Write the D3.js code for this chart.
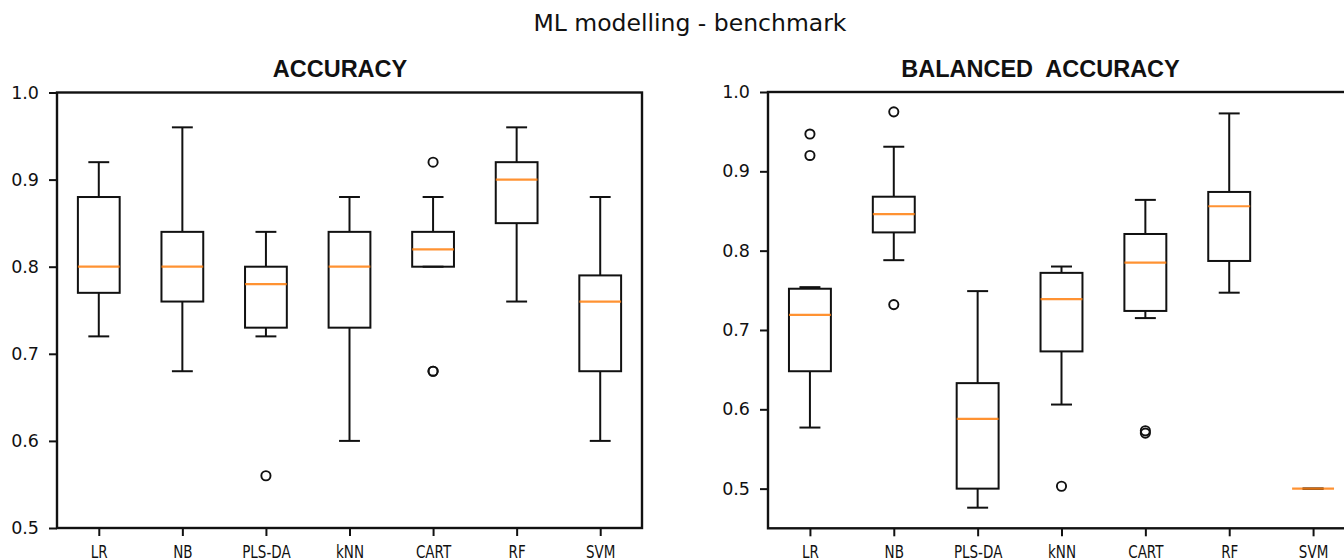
<!DOCTYPE html>
<html>
<head>
<meta charset="utf-8">
<script src="https://cdn.jsdelivr.net/npm/d3@7"></script>
<style>
  body { margin: 0; background: #fff; }
  svg { display: block; }
</style>
</head>
<body>
<script>
  var categories = ['LR', 'NB', 'PLS-DA', 'kNN', 'CART', 'RF', 'SVM'];

  // ACCURACY
  var accLo  = [0.72, 0.68, 0.72, 0.60, 0.80, 0.76, 0.60];
  var accQ1  = [0.77, 0.76, 0.73, 0.73, 0.80, 0.85, 0.68];
  var accMed = [0.80, 0.80, 0.78, 0.80, 0.82, 0.90, 0.76];
  var accQ3  = [0.88, 0.84, 0.80, 0.84, 0.84, 0.92, 0.79];
  var accHi  = [0.92, 0.96, 0.84, 0.88, 0.88, 0.96, 0.88];
  var accOut = [[], [], [0.56], [], [0.92, 0.68, 0.68], [], []];

  // BALANCED ACCURACY
  var balLo  = [0.577, 0.788, 0.476, 0.606, 0.715, 0.747, 0.50];
  var balQ1  = [0.648, 0.823, 0.500, 0.673, 0.724, 0.787, 0.50];
  var balMed = [0.719, 0.846, 0.588, 0.739, 0.785, 0.856, 0.50];
  var balQ3  = [0.752, 0.868, 0.633, 0.772, 0.821, 0.874, 0.50];
  var balHi  = [0.754, 0.931, 0.749, 0.780, 0.864, 0.973, 0.50];
  var balOut = [[0.947, 0.920], [0.975, 0.732], [], [0.503], [0.573, 0.570], [], []];

  var accTicks = [0.5, 0.6, 0.7, 0.8, 0.9, 1.0];
  var balTicks = [0.5, 0.6, 0.7, 0.8, 0.9, 1.0];

  var w = 1344,
      h = 560;

  var svg = d3.select('body').append('svg')
    .attr('width', w)
    .attr('height', h);

  svg.append('text')
    .attr('x', 690)
    .attr('y', 31)
    .attr('text-anchor', 'middle')
    .style('font-family', 'DejaVu Sans')
    .style('font-size', '23.5px')
    .attr('fill', '#111')
    .text('ML modelling - benchmark');

  drawPanel({
    title: 'ACCURACY', titleX: 340,
    left: 57, right: 642, top: 92.5, bottom: 528,
    domain: [0.5, 1.0], ticks: accTicks,
    lo: accLo, q1: accQ1, med: accMed, q3: accQ3, hi: accHi, out: accOut
  });

  drawPanel({
    title: 'BALANCED  ACCURACY', titleX: 1040.5,
    left: 768, right: 1355, top: 92, bottom: 528.3,
    domain: [0.45, 1.0], ticks: balTicks,
    lo: balLo, q1: balQ1, med: balMed, q3: balQ3, hi: balHi, out: balOut
  });

  function drawPanel(o) {
    var x = d3.scaleLinear().domain([0.5, categories.length + 0.5]).range([o.left, o.right]);
    var y = d3.scaleLinear().domain(o.domain).range([o.bottom, o.top]);
    var idx = d3.range(categories.length);

    var g = svg.append('g');

    svg.append('text')
      .attr('x', o.titleX)
      .attr('y', 76.5)
      .attr('text-anchor', 'middle')
      .style('font-family', 'Liberation Sans')
      .style('font-weight', 'bold')
      .style('font-size', '23.5px')
      .style('white-space', 'pre')
      .attr('fill', '#111')
      .text(o.title);

    var boxes = g.selectAll('.box')
      .data(idx)
      .enter()
      .append('g')
        .attr('class', 'box');

    // whiskers
    boxes.append('line')
      .attr('x1', function(i) { return x(i + 1); })
      .attr('x2', function(i) { return x(i + 1); })
      .attr('y1', function(i) { return y(o.hi[i]); })
      .attr('y2', function(i) { return y(o.q3[i]); });
    boxes.append('line')
      .attr('x1', function(i) { return x(i + 1); })
      .attr('x2', function(i) { return x(i + 1); })
      .attr('y1', function(i) { return y(o.q1[i]); })
      .attr('y2', function(i) { return y(o.lo[i]); });

    // caps
    boxes.append('line')
      .attr('x1', function(i) { return x(i + 1 - 0.125); })
      .attr('x2', function(i) { return x(i + 1 + 0.125); })
      .attr('y1', function(i) { return y(o.hi[i]); })
      .attr('y2', function(i) { return y(o.hi[i]); });
    boxes.append('line')
      .attr('x1', function(i) { return x(i + 1 - 0.125); })
      .attr('x2', function(i) { return x(i + 1 + 0.125); })
      .attr('y1', function(i) { return y(o.lo[i]); })
      .attr('y2', function(i) { return y(o.lo[i]); });

    boxes.selectAll('line')
      .attr('stroke', '#111')
      .attr('stroke-width', 2);

    boxes.append('rect')
      .attr('x', function(i) { return x(i + 1 - 0.25); })
      .attr('width', function(i) { return x(i + 1 + 0.25) - x(i + 1 - 0.25); })
      .attr('y', function(i) { return y(o.q3[i]); })
      .attr('height', function(i) { return y(o.q1[i]) - y(o.q3[i]); })
      .attr('fill', 'none')
      .attr('stroke', '#111')
      .attr('stroke-width', 2);

    boxes.append('line')
      .attr('x1', function(i) { return x(i + 1 - 0.25); })
      .attr('x2', function(i) { return x(i + 1 + 0.25); })
      .attr('y1', function(i) { return y(o.med[i]); })
      .attr('y2', function(i) { return y(o.med[i]); })
      .attr('stroke', '#ff7f0e')
      .attr('stroke-opacity', 0.85)
      .attr('stroke-width', 2.2);

    // fliers
    var fliers = [];
    idx.forEach(function(i) {
      o.out[i].forEach(function(v) { fliers.push({ i: i, v: v }); });
    });
    g.selectAll('.flier')
      .data(fliers)
      .enter()
      .append('circle')
        .attr('cx', function(d) { return x(d.i + 1); })
        .attr('cy', function(d) { return y(d.v); })
        .attr('r', 4.6)
        .attr('fill', 'none')
        .attr('stroke', '#111')
        .attr('stroke-width', 1.9);

    // frame
    svg.append('rect')
      .attr('x', o.left)
      .attr('y', o.top)
      .attr('width', o.right - o.left)
      .attr('height', o.bottom - o.top)
      .attr('fill', 'none')
      .attr('stroke', '#111')
      .attr('stroke-width', 2.4);

    var xAxis = svg.append('g')
      .attr('transform', translation(0, o.bottom))
      .call(d3.axisBottom(x)
        .tickValues(idx.map(function(i) { return i + 1; }))
        .tickFormat(function(d) { return categories[d - 1]; })
        .tickSize(8)
        .tickPadding(9));
    xAxis.select('.domain').remove();
    xAxis.selectAll('line').attr('stroke', '#111').attr('stroke-width', 2);
    xAxis.selectAll('text')
      .style('font-family', 'DejaVu Sans')
      .style('font-size', '18.5px')
      .attr('fill', '#111')
      .attr('transform', 'scale(0.73,1)');

    var yAxis = svg.append('g')
      .attr('transform', translation(o.left, 0))
      .call(d3.axisLeft(y)
        .tickValues(o.ticks)
        .tickFormat(d3.format('.1f'))
        .tickSize(8)
        .tickPadding(10));
    yAxis.select('.domain').remove();
    yAxis.selectAll('line').attr('stroke', '#111').attr('stroke-width', 2);
    yAxis.selectAll('text')
      .style('font-family', 'DejaVu Sans')
      .style('font-size', '17.5px')
      .attr('fill', '#111');
  }

  function translation(x, y) {
    return 'translate(' + x + ',' + y + ')';
  }
</script>
</body>
</html>
